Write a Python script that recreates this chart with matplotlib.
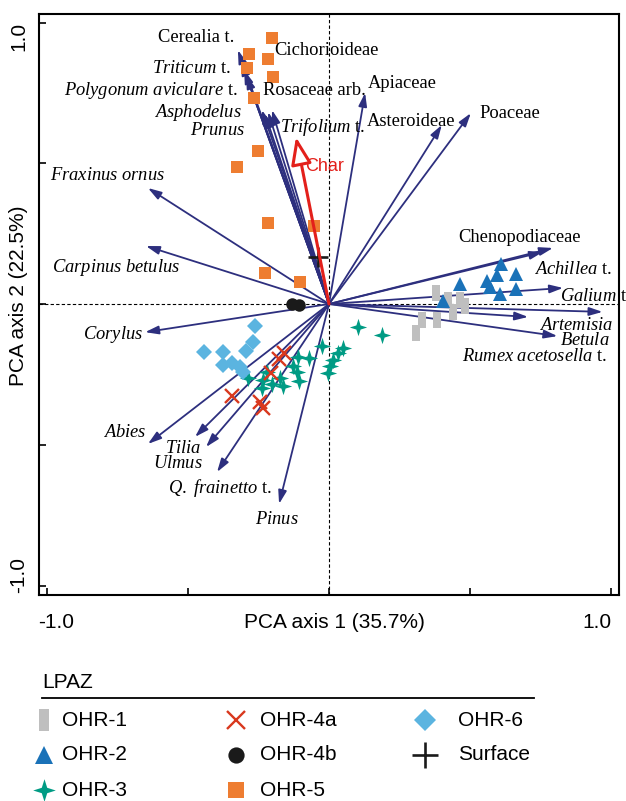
import matplotlib
matplotlib.use("Agg")
import matplotlib.pyplot as plt
from matplotlib.lines import Line2D

plt.rcParams['font.family'] = ['Liberation Sans', 'DejaVu Sans']
plt.rcParams['mathtext.fontset'] = 'custom'
plt.rcParams['mathtext.rm'] = 'Liberation Serif'
plt.rcParams['mathtext.it'] = 'Liberation Serif:italic'

# taxa loadings (arrow tips)
taxa = ['Cerealia t.', 'Triticum t.', 'Polygonum aviculare t.', 'Cichorioideae',
        'Asphodelus', 'Prunus', 'Rosaceae arb.', 'Trifolium t.',
        'Apiaceae', 'Asteroideae', 'Poaceae', 'Chenopodiaceae', 'Achillea t.',
        'Galium t.', 'Artemisia', 'Betula', 'Rumex acetosella t.',
        'Fraxinus ornus', 'Carpinus betulus', 'Corylus', 'Abies', 'Tilia',
        'Ulmus', 'Q. frainetto t.', 'Pinus']
load_x = [-0.323, -0.312, -0.301, -0.294, -0.238, -0.227, -0.216, -0.202,
          0.128, 0.400, 0.503, 0.794, 0.759, 0.830, 0.970, 0.706, 0.810,
          -0.642, -0.649, -0.652, -0.642, -0.475, -0.436, -0.397, -0.177]
load_y = [0.902, 0.860, 0.831, 0.813, 0.689, 0.675, 0.682, 0.689,
          0.750, 0.636, 0.678, 0.199, 0.185, 0.057, -0.028, -0.046, -0.114,
          0.412, 0.206, -0.100, -0.497, -0.472, -0.508, -0.597, -0.710]

# passive variable
char_x, char_y = -0.117, 0.593

# sample scores per zone
ohr1_x = [0.379, 0.422, 0.440, 0.465, 0.482, 0.330, 0.383, 0.309]
ohr1_y = [0.039, 0.014, -0.028, 0.014, -0.007, -0.057, -0.057, -0.103]
ohr2_x = [0.610, 0.596, 0.663, 0.465, 0.560, 0.571, 0.663, 0.606, 0.404]
ohr2_y = [0.142, 0.103, 0.107, 0.071, 0.082, 0.060, 0.053, 0.036, 0.011]
ohr3_x = [0.103, 0.188, -0.025, 0.050, 0.032, 0.014, 0.004, -0.004, -0.110, -0.071,
          -0.128, -0.113, -0.106, -0.287, -0.234, -0.238, -0.202, -0.163, -0.220, -0.174]
ohr3_y = [-0.082, -0.110, -0.149, -0.156, -0.174, -0.199, -0.220, -0.245, -0.188, -0.192,
          -0.220, -0.242, -0.274, -0.263, -0.270, -0.298, -0.284, -0.291, -0.242, -0.263]
ohr4a_x = [-0.160, -0.177, -0.206, -0.344, -0.245, -0.234]
ohr4a_y = [-0.174, -0.195, -0.245, -0.327, -0.348, -0.369]
ohr4b_x = [-0.131, -0.106]
ohr4b_y = [0.000, -0.004]
ohr5_x = [-0.202, -0.284, -0.216, -0.291, -0.199, -0.266, -0.252, -0.326, -0.216, -0.053, -0.227, -0.103]
ohr5_y = [0.945, 0.888, 0.870, 0.838, 0.806, 0.732, 0.543, 0.487, 0.288, 0.277, 0.110, 0.078]
ohr6_x = [-0.262, -0.270, -0.443, -0.376, -0.294, -0.376, -0.344, -0.316, -0.305]
ohr6_y = [-0.078, -0.135, -0.171, -0.171, -0.167, -0.217, -0.210, -0.224, -0.242]
surf_x = [-0.039]
surf_y = [0.167]

NAVY = '#2d2f7e'
star4 = [(0, 1), (0.24, 0.24), (1, 0), (0.24, -0.24), (0, -1), (-0.24, -0.24), (-1, 0), (-0.24, 0.24), (0, 1)]
vrect = [(-0.5, -1), (0.5, -1), (0.5, 1), (-0.5, 1), (-0.5, -1)]

groups = [
    ('OHR-1', ohr1_x, ohr1_y, dict(marker=vrect, color='#bfbfbf', ms=12, mew=0)),
    ('OHR-2', ohr2_x, ohr2_y, dict(marker='^', color='#1a72b8', ms=10, mew=0)),
    ('OHR-3', ohr3_x, ohr3_y, dict(marker=star4, color='#009b84', ms=12.5, mew=0)),
    ('OHR-4a', ohr4a_x, ohr4a_y, dict(marker='x', color='#d9381e', ms=9.5, mew=1.7)),
    ('OHR-4b', ohr4b_x, ohr4b_y, dict(marker='o', color='#1a1a1a', ms=9, mew=0)),
    ('OHR-5', ohr5_x, ohr5_y, dict(marker='s', color='#ee7d31', ms=8.5, mew=0)),
    ('OHR-6', ohr6_x, ohr6_y, dict(marker='D', color='#5bb4e0', ms=8.5, mew=0)),
    ('Surface', surf_x, surf_y, dict(marker='+', color='#1a1a1a', ms=14, mew=1.9)),
]

# label placement (x, y, ha) in axis units
label_pos = {
    'Cerealia t.': (-0.337, 0.948, 'right'), 'Cichorioideae': (-0.195, 0.902, 'left'),
    'Triticum t.': (-0.348, 0.835, 'right'), 'Polygonum aviculare t.': (-0.323, 0.760, 'right'),
    'Rosaceae arb.': (-0.234, 0.760, 'left'), 'Asphodelus': (-0.309, 0.682, 'right'),
    'Prunus': (-0.298, 0.618, 'right'), 'Trifolium t.': (-0.174, 0.629, 'left'),
    'Apiaceae': (0.138, 0.785, 'left'), 'Asteroideae': (0.135, 0.650, 'left'),
    'Poaceae': (0.532, 0.678, 'left'), 'Chenopodiaceae': (0.457, 0.238, 'left'),
    'Achillea t.': (0.727, 0.121, 'left'), 'Galium t.': (0.819, 0.025, 'left'),
    'Artemisia': (0.745, -0.075, 'left'), 'Betula': (0.819, -0.131, 'left'),
    'Rumex acetosella t.': (0.472, -0.185, 'left'), 'Fraxinus ornus': (-0.989, 0.455, 'left'),
    'Carpinus betulus': (-0.982, 0.128, 'left'), 'Corylus': (-0.872, -0.110, 'left'),
    'Abies': (-0.801, -0.458, 'left'), 'Tilia': (-0.582, -0.512, 'left'),
    'Ulmus': (-0.624, -0.565, 'left'), 'Q. frainetto t.': (-0.571, -0.654, 'left'),
    'Pinus': (-0.262, -0.767, 'left'),
}
upright = {'Cerealia t.', 'Cichorioideae', 'Rosaceae arb.', 'Apiaceae', 'Asteroideae',
           'Poaceae', 'Chenopodiaceae'}


def fmt(name):
    if name in upright:
        return name
    if name.endswith(' t.'):
        return r'$\mathit{' + name[:-3].replace(' ', r'\ ') + '}$ t.'
    return r'$\mathit{' + name.replace(' ', r'\ ') + '}$'


fig = plt.figure(figsize=(6.26, 8.01), dpi=100)
ax = fig.add_axes([39 / 626, 1 - 595 / 801, 580 / 626, 581 / 801])
ax.set_xlim(-1.0284, 1.0284)
ax.set_ylim(-1.0337, 1.0302)

ax.axhline(0, color='black', lw=0.8, ls=(0, (3, 2)), zorder=1)
ax.axvline(0, color='black', lw=0.8, ls=(0, (3, 2)), zorder=1)

for name, lx, ly in zip(taxa, load_x, load_y):
    ax.annotate('', xy=(lx, ly), xytext=(0, 0),
                arrowprops=dict(arrowstyle='-|>,head_length=0.8,head_width=0.25',
                                color=NAVY, lw=1.3, shrinkA=0, shrinkB=0), zorder=2)
    px, py, ha = label_pos[name]
    ax.text(px, py, fmt(name), ha=ha, va='center', fontsize=13.3,
            family='Liberation Serif', clip_on=False, zorder=5)

ax.annotate('', xy=(char_x, char_y), xytext=(0, 0),
            arrowprops=dict(arrowstyle='-|>,head_length=1.2,head_width=0.45',
                            ec='#e3201b', fc='white', lw=2.2, shrinkA=0, shrinkB=0,
                            mutation_scale=14), zorder=4)
ax.text(-0.085, 0.487, 'Char', color='#e3201b', fontsize=13, ha='left', va='center')

for name, gx, gy, st in groups:
    ax.plot(gx, gy, ls='none', zorder=3, **st)

ax.set_xticks([-1, -0.5, 0, 0.5, 1])
ax.set_yticks([-1, -0.5, 0, 0.5, 1])
ax.set_xticklabels([])
ax.set_yticklabels([])
ax.tick_params(direction='in', length=5, width=1.2)
for s in ax.spines.values():
    s.set_linewidth(1.5)

# overlay in pixel units for outside texts and legend
lax = fig.add_axes([0, 0, 1, 1])
lax.set_xlim(0, 626)
lax.set_ylim(801, 0)
lax.axis('off')
lax.patch.set_visible(False)

fs = 15
lax.text(38, 623, '-1.0', ha='left', va='center', fontsize=fs)
lax.text(612, 623, '1.0', ha='right', va='center', fontsize=fs)
lax.text(334, 623, 'PCA axis 1 (35.7%)', ha='center', va='center', fontsize=fs)
lax.text(19, 22, '1.0', rotation=90, ha='center', va='top', fontsize=fs)
lax.text(19, 593, '-1.0', rotation=90, ha='center', va='bottom', fontsize=fs)
lax.text(19, 296, 'PCA axis 2 (22.5%)', rotation=90, ha='center', va='center', fontsize=fs)

# legend
lax.text(42, 682, 'LPAZ', ha='left', va='center', fontsize=fs)
lax.add_line(Line2D([42, 534], [698, 698], color='black', lw=1.3))
slots = [(44, 62, 720), (44, 62, 755), (44, 62, 790),
         (236, 260, 720), (236, 260, 755), (236, 260, 790),
         (425, 458, 720), (425, 458, 755)]
for (name, gx, gy, st), (mx, tx, ry) in zip(groups, slots):
    lst = dict(st)
    lst['ms'] = st['ms'] * 1.3
    lax.plot([mx], [ry], ls='none', **lst)
    lax.text(tx, ry, name, ha='left', va='center', fontsize=fs)

fig.savefig('out.png', dpi=100)
